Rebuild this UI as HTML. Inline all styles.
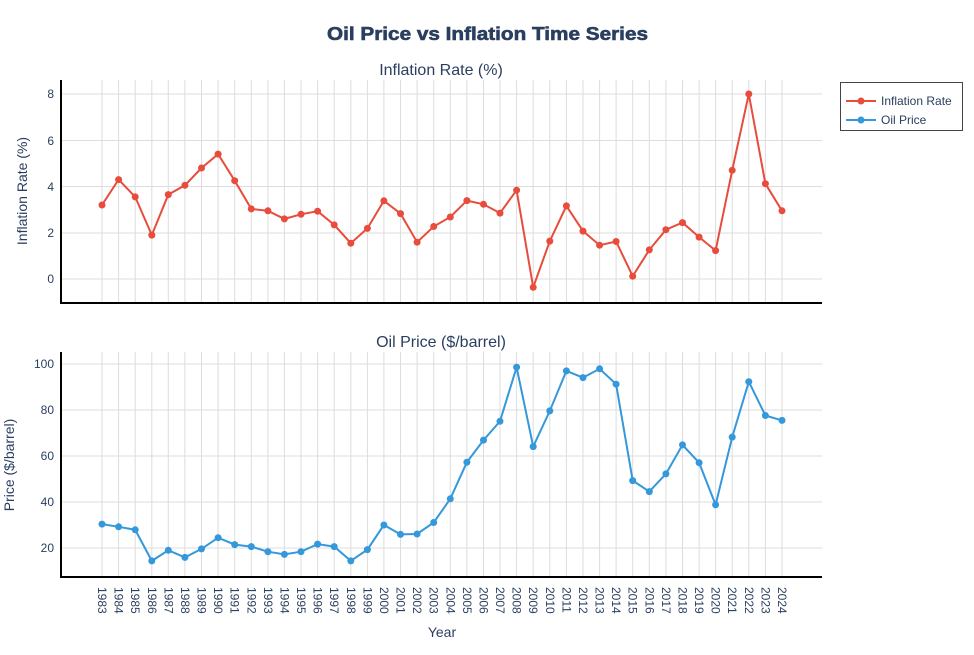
<!DOCTYPE html>
<html><head><meta charset="utf-8"><style>
body{margin:0;background:#fff}
svg text{font-family:"Liberation Sans",Arial,sans-serif;fill:#2a3f5f}
</style></head><body>
<svg width="974" height="650" viewBox="0 0 974 650" xmlns="http://www.w3.org/2000/svg">
<rect width="974" height="650" fill="#fff"/>
<g stroke="#dddddd" stroke-width="1">
<path d="M102 80V303M118.6 80V303M135.2 80V303M151.8 80V303M168.3 80V303M184.9 80V303M201.5 80V303M218.1 80V303M234.7 80V303M251.3 80V303M267.9 80V303M284.4 80V303M301 80V303M317.6 80V303M334.2 80V303M350.8 80V303M367.4 80V303M383.9 80V303M400.5 80V303M417.1 80V303M433.7 80V303M450.3 80V303M466.9 80V303M483.5 80V303M500 80V303M516.6 80V303M533.2 80V303M549.8 80V303M566.4 80V303M583 80V303M599.6 80V303M616.1 80V303M632.7 80V303M649.3 80V303M665.9 80V303M682.5 80V303M699.1 80V303M715.6 80V303M732.2 80V303M748.8 80V303M765.4 80V303M782 80V303"/>
<path d="M102 352V577M118.6 352V577M135.2 352V577M151.8 352V577M168.3 352V577M184.9 352V577M201.5 352V577M218.1 352V577M234.7 352V577M251.3 352V577M267.9 352V577M284.4 352V577M301 352V577M317.6 352V577M334.2 352V577M350.8 352V577M367.4 352V577M383.9 352V577M400.5 352V577M417.1 352V577M433.7 352V577M450.3 352V577M466.9 352V577M483.5 352V577M500 352V577M516.6 352V577M533.2 352V577M549.8 352V577M566.4 352V577M583 352V577M599.6 352V577M616.1 352V577M632.7 352V577M649.3 352V577M665.9 352V577M682.5 352V577M699.1 352V577M715.6 352V577M732.2 352V577M748.8 352V577M765.4 352V577M782 352V577"/>
<path d="M60 94H822M60 140.5H822M60 186.5H822M60 233H822M60 279H822"/>
<path d="M60 364H822M60 410H822M60 456H822M60 502H822M60 548H822"/>
</g>
<g stroke="#000" stroke-width="2">
<path d="M61 80V304M60 303H822"/>
<path d="M61 352V578M60 577H822"/>
</g>
<g font-size="12" text-anchor="end">
<text x="54" y="98">8</text><text x="54" y="145">6</text><text x="54" y="191">4</text><text x="54" y="237">2</text><text x="54" y="283">0</text>
<text x="54" y="368">100</text><text x="54" y="414">80</text><text x="54" y="460">60</text><text x="54" y="506">40</text><text x="54" y="552">20</text>
</g>
<text x="327" y="40" font-size="18" font-weight="900" textLength="321" lengthAdjust="spacingAndGlyphs" stroke="#2a3f5f" stroke-width="0.6">Oil Price vs Inflation Time Series</text>
<text x="441" y="75" font-size="16" text-anchor="middle">Inflation Rate (%)</text>
<text x="441" y="347" font-size="16" text-anchor="middle">Oil Price ($/barrel)</text>
<text transform="translate(27 191) rotate(-90)" font-size="14" text-anchor="middle">Inflation Rate (%)</text>
<text transform="translate(14 465) rotate(-90)" font-size="14" text-anchor="middle">Price ($/barrel)</text>
<text x="442" y="637" font-size="14" text-anchor="middle">Year</text>
<g font-size="12">
<text transform="translate(98 587) rotate(90)">1983</text><text transform="translate(114.6 587) rotate(90)">1984</text><text transform="translate(131.2 587) rotate(90)">1985</text><text transform="translate(147.8 587) rotate(90)">1986</text><text transform="translate(164.3 587) rotate(90)">1987</text><text transform="translate(180.9 587) rotate(90)">1988</text><text transform="translate(197.5 587) rotate(90)">1989</text><text transform="translate(214.1 587) rotate(90)">1990</text><text transform="translate(230.7 587) rotate(90)">1991</text><text transform="translate(247.3 587) rotate(90)">1992</text><text transform="translate(263.9 587) rotate(90)">1993</text><text transform="translate(280.4 587) rotate(90)">1994</text><text transform="translate(297 587) rotate(90)">1995</text><text transform="translate(313.6 587) rotate(90)">1996</text><text transform="translate(330.2 587) rotate(90)">1997</text><text transform="translate(346.8 587) rotate(90)">1998</text><text transform="translate(363.4 587) rotate(90)">1999</text><text transform="translate(379.9 587) rotate(90)">2000</text><text transform="translate(396.5 587) rotate(90)">2001</text><text transform="translate(413.1 587) rotate(90)">2002</text><text transform="translate(429.7 587) rotate(90)">2003</text><text transform="translate(446.3 587) rotate(90)">2004</text><text transform="translate(462.9 587) rotate(90)">2005</text><text transform="translate(479.5 587) rotate(90)">2006</text><text transform="translate(496 587) rotate(90)">2007</text><text transform="translate(512.6 587) rotate(90)">2008</text><text transform="translate(529.2 587) rotate(90)">2009</text><text transform="translate(545.8 587) rotate(90)">2010</text><text transform="translate(562.4 587) rotate(90)">2011</text><text transform="translate(579 587) rotate(90)">2012</text><text transform="translate(595.6 587) rotate(90)">2013</text><text transform="translate(612.1 587) rotate(90)">2014</text><text transform="translate(628.7 587) rotate(90)">2015</text><text transform="translate(645.3 587) rotate(90)">2016</text><text transform="translate(661.9 587) rotate(90)">2017</text><text transform="translate(678.5 587) rotate(90)">2018</text><text transform="translate(695.1 587) rotate(90)">2019</text><text transform="translate(711.6 587) rotate(90)">2020</text><text transform="translate(728.2 587) rotate(90)">2021</text><text transform="translate(744.8 587) rotate(90)">2022</text><text transform="translate(761.4 587) rotate(90)">2023</text><text transform="translate(778 587) rotate(90)">2024</text>
</g>
<polyline fill="none" stroke="#e74c3c" stroke-width="2" points="102,205 118.6,179.6 135.2,196.9 151.8,235.1 168.3,194.6 184.9,185.3 201.5,168 218.1,154.1 234.7,180.7 251.3,208.9 267.9,210.8 284.4,218.9 301,214.3 317.6,211.2 334.2,224.9 350.8,243.2 367.4,228.4 383.9,200.8 400.5,213.6 417.1,242.2 433.7,226.5 450.3,217 466.9,200.6 483.5,204.3 500,213.1 516.6,190.2 533.2,287.3 549.8,241.1 566.4,205.9 583,231.1 599.6,245.2 616.1,241.5 632.7,276.2 649.3,249.9 665.9,229.7 682.5,222.6 699.1,237.1 715.6,250.6 732.2,170.3 748.8,94 765.4,183.7 782,210.8"/>
<polyline fill="none" stroke="#3498db" stroke-width="2" points="102,524.1 118.6,526.8 135.2,529.8 151.8,560.9 168.3,550.3 184.9,557.4 201.5,548.9 218.1,537.7 234.7,544.6 251.3,546.6 267.9,551.7 284.4,554.4 301,551.7 317.6,544.1 334.2,546.6 350.8,560.9 367.4,549.6 383.9,525 400.5,534.4 417.1,534 433.7,522.5 450.3,498.8 466.9,462.2 483.5,440.1 500,421.3 516.6,367.2 533.2,446.6 549.8,410.9 566.4,370.9 583,377.6 599.6,368.8 616.1,384.2 632.7,480.6 649.3,491.6 665.9,473.9 682.5,444.9 699.1,462.7 715.6,504.8 732.2,437.1 748.8,381.7 765.4,415.5 782,420.4"/>
<g fill="#e74c3c">
<circle cx="102" cy="205" r="3.5"/><circle cx="118.6" cy="179.6" r="3.5"/><circle cx="135.2" cy="196.9" r="3.5"/><circle cx="151.8" cy="235.1" r="3.5"/><circle cx="168.3" cy="194.6" r="3.5"/><circle cx="184.9" cy="185.3" r="3.5"/><circle cx="201.5" cy="168" r="3.5"/><circle cx="218.1" cy="154.1" r="3.5"/><circle cx="234.7" cy="180.7" r="3.5"/><circle cx="251.3" cy="208.9" r="3.5"/><circle cx="267.9" cy="210.8" r="3.5"/><circle cx="284.4" cy="218.9" r="3.5"/><circle cx="301" cy="214.3" r="3.5"/><circle cx="317.6" cy="211.2" r="3.5"/><circle cx="334.2" cy="224.9" r="3.5"/><circle cx="350.8" cy="243.2" r="3.5"/><circle cx="367.4" cy="228.4" r="3.5"/><circle cx="383.9" cy="200.8" r="3.5"/><circle cx="400.5" cy="213.6" r="3.5"/><circle cx="417.1" cy="242.2" r="3.5"/><circle cx="433.7" cy="226.5" r="3.5"/><circle cx="450.3" cy="217" r="3.5"/><circle cx="466.9" cy="200.6" r="3.5"/><circle cx="483.5" cy="204.3" r="3.5"/><circle cx="500" cy="213.1" r="3.5"/><circle cx="516.6" cy="190.2" r="3.5"/><circle cx="533.2" cy="287.3" r="3.5"/><circle cx="549.8" cy="241.1" r="3.5"/><circle cx="566.4" cy="205.9" r="3.5"/><circle cx="583" cy="231.1" r="3.5"/><circle cx="599.6" cy="245.2" r="3.5"/><circle cx="616.1" cy="241.5" r="3.5"/><circle cx="632.7" cy="276.2" r="3.5"/><circle cx="649.3" cy="249.9" r="3.5"/><circle cx="665.9" cy="229.7" r="3.5"/><circle cx="682.5" cy="222.6" r="3.5"/><circle cx="699.1" cy="237.1" r="3.5"/><circle cx="715.6" cy="250.6" r="3.5"/><circle cx="732.2" cy="170.3" r="3.5"/><circle cx="748.8" cy="94" r="3.5"/><circle cx="765.4" cy="183.7" r="3.5"/><circle cx="782" cy="210.8" r="3.5"/>
</g>
<g fill="#3498db">
<circle cx="102" cy="524.1" r="3.5"/><circle cx="118.6" cy="526.8" r="3.5"/><circle cx="135.2" cy="529.8" r="3.5"/><circle cx="151.8" cy="560.9" r="3.5"/><circle cx="168.3" cy="550.3" r="3.5"/><circle cx="184.9" cy="557.4" r="3.5"/><circle cx="201.5" cy="548.9" r="3.5"/><circle cx="218.1" cy="537.7" r="3.5"/><circle cx="234.7" cy="544.6" r="3.5"/><circle cx="251.3" cy="546.6" r="3.5"/><circle cx="267.9" cy="551.7" r="3.5"/><circle cx="284.4" cy="554.4" r="3.5"/><circle cx="301" cy="551.7" r="3.5"/><circle cx="317.6" cy="544.1" r="3.5"/><circle cx="334.2" cy="546.6" r="3.5"/><circle cx="350.8" cy="560.9" r="3.5"/><circle cx="367.4" cy="549.6" r="3.5"/><circle cx="383.9" cy="525" r="3.5"/><circle cx="400.5" cy="534.4" r="3.5"/><circle cx="417.1" cy="534" r="3.5"/><circle cx="433.7" cy="522.5" r="3.5"/><circle cx="450.3" cy="498.8" r="3.5"/><circle cx="466.9" cy="462.2" r="3.5"/><circle cx="483.5" cy="440.1" r="3.5"/><circle cx="500" cy="421.3" r="3.5"/><circle cx="516.6" cy="367.2" r="3.5"/><circle cx="533.2" cy="446.6" r="3.5"/><circle cx="549.8" cy="410.9" r="3.5"/><circle cx="566.4" cy="370.9" r="3.5"/><circle cx="583" cy="377.6" r="3.5"/><circle cx="599.6" cy="368.8" r="3.5"/><circle cx="616.1" cy="384.2" r="3.5"/><circle cx="632.7" cy="480.6" r="3.5"/><circle cx="649.3" cy="491.6" r="3.5"/><circle cx="665.9" cy="473.9" r="3.5"/><circle cx="682.5" cy="444.9" r="3.5"/><circle cx="699.1" cy="462.7" r="3.5"/><circle cx="715.6" cy="504.8" r="3.5"/><circle cx="732.2" cy="437.1" r="3.5"/><circle cx="748.8" cy="381.7" r="3.5"/><circle cx="765.4" cy="415.5" r="3.5"/><circle cx="782" cy="420.4" r="3.5"/>
</g>
<rect x="840.5" y="82.5" width="122" height="48" fill="#fff" stroke="#444" stroke-width="1"/>
<path d="M846 101H876" stroke="#e74c3c" stroke-width="2"/><circle cx="861" cy="101" r="3.5" fill="#e74c3c"/>
<path d="M846 120H876" stroke="#3498db" stroke-width="2"/><circle cx="861" cy="120" r="3.5" fill="#3498db"/>
<text x="881" y="105" font-size="12">Inflation Rate</text>
<text x="881" y="124" font-size="12">Oil Price</text>
</svg>
</body></html>
